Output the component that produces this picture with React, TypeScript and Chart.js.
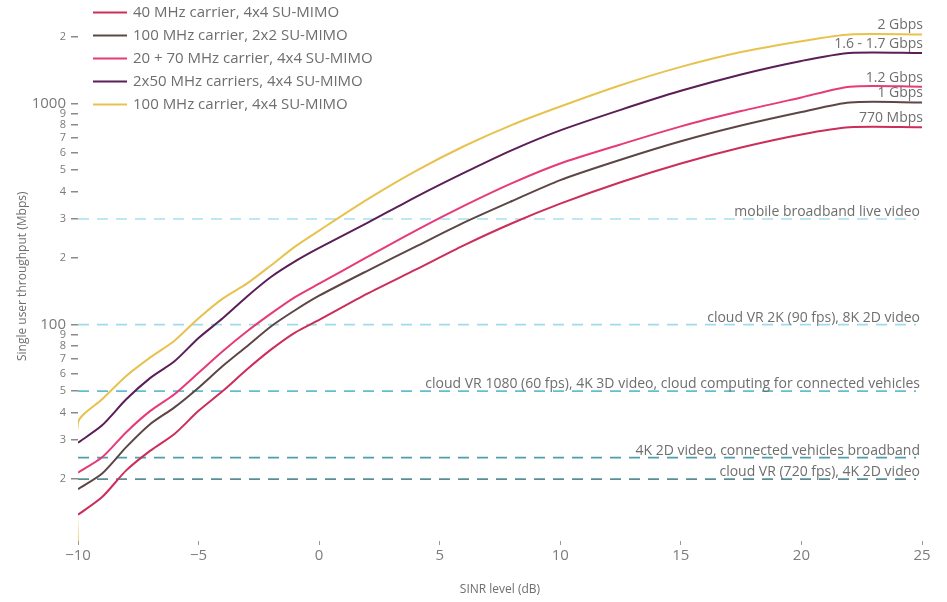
import React, { useEffect, useRef } from "react";
import { Chart, registerables } from "chart.js";

Chart.register(...registerables);

// ---- data ----
const sinrDb = [-10, -9, -8, -7, -6, -5, -4, -3, -2, -1, 0, 2, 4, 6, 8, 10, 12.5, 15, 17.5, 20, 22, 25];

const carrier40_4x4 = [13.8, 16.6, 21.9, 26.9, 32, 40.7, 50, 62.6, 77, 92, 105, 138, 177, 228, 287, 352, 440, 535, 632, 724, 780, 780];
const carrier100_2x2 = [18, 21.2, 27.9, 35.5, 42.2, 51.8, 64.9, 79.6, 98, 116, 135, 175, 225, 289, 362, 450, 556, 674, 794, 914, 1010, 1010];
const carrier20p70_4x4 = [21.4, 25.1, 32.6, 40.7, 48.4, 60.5, 75.7, 93, 112, 133, 153, 202, 266, 344, 436, 535, 652, 787, 923, 1064, 1190, 1190];
const carriers2x50_4x4 = [29.2, 35, 45.9, 57.4, 68.2, 86.9, 106.7, 133.6, 164, 193, 222, 288, 377, 485, 615, 755, 935, 1140, 1352, 1556, 1690, 1690];
const carrier100_4x4 = [36, 45.9, 58.5, 71, 84.5, 106.7, 131, 153, 185, 225, 266, 368, 494, 640, 800, 968, 1208, 1462, 1707, 1911, 2050, 2050];
const carrier100_4x4Floor = 9; // the vertical drop of the 100 MHz 4x4 curve at -10 dB

const seriesNames = [
  "40 MHz carrier, 4x4 SU-MIMO",
  "100 MHz carrier, 2x2 SU-MIMO",
  "20 + 70 MHz carrier, 4x4 SU-MIMO",
  "2x50 MHz carriers, 4x4 SU-MIMO",
  "100 MHz carrier, 4x4 SU-MIMO",
];
const seriesEndLabels = ["770 Mbps", "1 Gbps", "1.2 Gbps", "1.6 - 1.7 Gbps", "2 Gbps"];

const refValues = [300, 100, 50, 25, 20];
const refLabels = [
  "mobile broadband live video",
  "cloud VR 2K (90 fps), 8K 2D video",
  "cloud VR 1080 (60 fps), 4K 3D video, cloud computing for connected vehicles",
  "4K 2D video, connected vehicles broadband",
  "cloud VR (720 fps), 4K 2D video",
];
const refLineStartDb = -10;
const refLineEndDb = 24.75;

const yTickValues = [20, 30, 40, 50, 60, 70, 80, 90, 100, 200, 300, 400, 500, 600, 700, 800, 900, 1000, 2000];
const xTickStep = 5;

// ---- styles ----
const FONT = '"Open Sans", "Noto Sans", sans-serif';
const TEXT = "#6e6e6e";
const seriesColors = ["#cc2e5b", "#5e4646", "#e63a79", "#5b1e57", "#e8c24e"];
const refColors = ["#a9e1ed", "#9fdcea", "#62bfcd", "#4e9fad", "#5b8d98"];

const overlayPlugin = {
  id: "overlay",
  afterDatasetsDraw(chart: any) {
    const { ctx, chartArea, scales } = chart;
    const ys = scales.y;
    ctx.save();
    ctx.fillStyle = TEXT;
    ctx.textAlign = "right";
    ctx.textBaseline = "alphabetic";
    ctx.font = `14px ${FONT}`;
    refValues.forEach((v, i) => {
      const y = ys.getPixelForValue(v);
      ctx.fillText(refLabels[i], chartArea.right - 2, y - 3);
    });
    const ends = [carrier40_4x4, carrier100_2x2, carrier20p70_4x4, carriers2x50_4x4, carrier100_4x4];
    ctx.font = `14px ${FONT}`;
    ends.forEach((arr, i) => {
      const y = ys.getPixelForValue(arr[arr.length - 1]);
      ctx.fillText(seriesEndLabels[i], chartArea.right + 1, y - 5);
    });
    // legend
    ctx.textAlign = "left";
    ctx.textBaseline = "middle";
    ctx.font = `15px ${FONT}`;
    seriesNames.forEach((name, i) => {
      const y = 12.5 + i * 23;
      ctx.strokeStyle = seriesColors[i];
      ctx.lineWidth = 2;
      ctx.beginPath();
      ctx.moveTo(93, y);
      ctx.lineTo(127, y);
      ctx.stroke();
      ctx.fillStyle = TEXT;
      ctx.fillText(name, 133, y);
    });
    ctx.restore();
  },
};

export default function App() {
  const ref = useRef<HTMLCanvasElement | null>(null);

  useEffect(() => {
    if (!ref.current) return;
    const seriesData = [carrier40_4x4, carrier100_2x2, carrier20p70_4x4, carriers2x50_4x4, carrier100_4x4];
    const curveSets = seriesData.map((arr, i) => {
      const pts = sinrDb.map((x, j) => ({ x, y: arr[j] }));
      if (i === 4) pts.unshift({ x: sinrDb[0], y: carrier100_4x4Floor });
      return {
        label: seriesNames[i],
        data: pts,
        borderColor: seriesColors[i],
        backgroundColor: seriesColors[i],
        borderWidth: 2,
        pointRadius: 0,
        tension: 0.25,
        fill: false,
        order: 1,
      };
    });
    const refSets = refValues.map((v, i) => ({
      label: refLabels[i],
      data: [
        { x: refLineStartDb, y: v },
        { x: refLineEndDb, y: v },
      ],
      borderColor: refColors[i],
      borderWidth: 1.7,
      borderDash: [11, 8],
      pointRadius: 0,
      fill: false,
      order: 2,
    }));

    const chart = new Chart(ref.current, {
      type: "line",
      data: { datasets: [...refSets, ...curveSets] as any },
      plugins: [overlayPlugin],
      options: {
        animation: false,
        responsive: false,
        layout: { padding: { top: 7, right: 25, left: 0, bottom: 0 } },
        plugins: { legend: { display: false }, tooltip: { enabled: false } },
        scales: {
          x: {
            type: "linear",
            min: -10,
            max: 25,
            afterFit: (s: any) => {
              s.height = 61;
            },
            ticks: {
              stepSize: xTickStep,
              padding: 2,
              color: "#7c7c7c",
              font: { family: FONT, size: 15 },
              callback: (v: any) => String(v).replace("-", "\u2212"),
            },
            grid: { drawOnChartArea: false, drawTicks: true, tickLength: 4, color: "#999" },
            border: { display: false },
            title: {
              display: true,
              text: "SINR level (dB)",
              color: TEXT,
              font: { family: FONT, size: 12 },
              padding: { top: 0, bottom: 5 },
            },
          },
          y: {
            type: "logarithmic",
            min: 10.5,
            max: 2600,
            afterFit: (s: any) => {
              s.width = 78;
            },
            afterBuildTicks: (s: any) => {
              s.ticks = yTickValues.map((v) => ({ value: v }));
            },
            ticks: {
              padding: 5,
              color: "#7a7a7a",
              font: (c: any) => {
                const v = c.tick ? c.tick.value : 0;
                return { family: FONT, size: v === 100 || v === 1000 ? 15 : 11 };
              },
              callback: (v: any) => {
                const n = Number(v);
                if (n === 100 || n === 1000) return String(n);
                return String(n).charAt(0);
              },
            },
            grid: { drawOnChartArea: false, drawTicks: true, tickLength: 7, color: "#8a8a8a", lineWidth: 1.5 },
            border: { display: false },
            title: {
              display: true,
              text: "Single user throughput (Mbps)",
              color: TEXT,
              font: { family: FONT, size: 12 },
              padding: { top: 15, bottom: 0 },
            },
          },
        },
      } as any,
    });
    return () => chart.destroy();
  }, []);

  return (
    <div style={{ position: "absolute", left: 0, top: 0, width: 947, height: 602, background: "#fff" }}>
      <canvas ref={ref} width={947} height={602} style={{ display: "block" }} />
    </div>
  );
}
